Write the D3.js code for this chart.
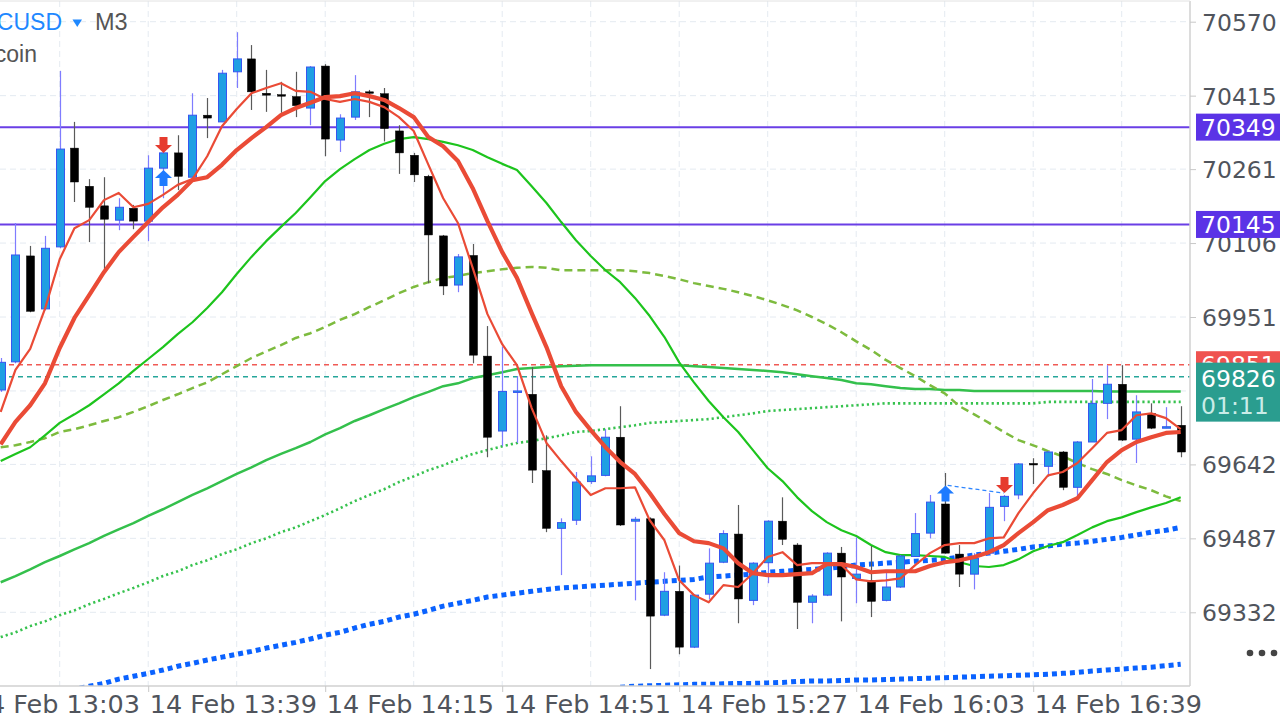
<!DOCTYPE html>
<html><head><meta charset="utf-8">
<script src="https://cdn.jsdelivr.net/npm/d3@7"></script>
<style>html,body{margin:0;padding:0;background:#fff;overflow:hidden}svg{display:block}</style>
</head><body><svg id="c" width="1280" height="720"></svg>
<script>
// ---------------- DATA ----------------
const symbol = "BTCUSD", timeframe = "M3", description = "Bitcoin";
const day = "2024-02-14";
const times = ["13:09","13:12","13:15","13:18","13:21","13:24","13:27","13:30","13:33","13:36",
"13:39","13:42","13:45","13:48","13:51","13:54","13:57","14:00","14:03","14:06",
"14:09","14:12","14:15","14:18","14:21","14:24","14:27","14:30","14:33","14:36",
"14:39","14:42","14:45","14:48","14:51","14:54","14:57","15:00","15:03","15:06",
"15:09","15:12","15:15","15:18","15:21","15:24","15:27","15:30","15:33","15:36",
"15:39","15:42","15:45","15:48","15:51","15:54","15:57","16:00","16:03","16:06",
"16:09","16:12","16:15","16:18","16:21","16:24","16:27","16:30","16:33","16:36",
"16:39","16:42","16:45","16:48","16:51","16:54","16:57","17:00","17:03","17:06","17:09"];
const opens = [69798,69857,70079,69968,70098,70305,70225,70184,70154,70179,70152,70263,70295,70244,70374,70360,70465,70492,70420,70417,70413,70389,70477,70322,70370,70423,70419,70341,70290,70246,70121,70018,70080,69869,69712,69794,69789,69629,69508,69525,69606,69619,69699,69523,69528,69326,69376,69259,69370,69437,69496,69357,69436,69523,69473,69353,69368,69456,69403,69399,69357,69385,69449,69498,69559,69454,69412,69456,69554,69578,69644,69638,69668,69594,69689,69770,69810,69695,69749,69719,69724];
const highs = [69865,70148,70100,70121,70467,70360,70240,70244,70200,70186,70290,70301,70332,70420,70410,70469,70548,70521,70469,70444,70465,70477,70481,70376,70458,70427,70431,70353,70295,70249,70123,70083,70104,69932,69889,69827,69846,69703,69529,69626,69659,69716,69764,69532,69531,69416,69430,69370,69466,69504,69557,69437,69525,69573,69477,69370,69458,69469,69489,69471,69416,69452,69540,69578,69624,69473,69456,69582,69578,69645,69655,69670,69670,69691,69821,69850,69850,69787,69770,69762,69764];
const lows = [69794,69854,69961,69965,70095,70192,70108,70051,70133,70135,70110,70200,70217,70242,70326,70360,70431,70385,70381,70379,70370,70353,70288,70297,70364,70370,70319,70251,70234,70022,69997,70003,69854,69657,69680,69687,69603,69500,69410,69515,69601,69617,69513,69357,69213,69324,69244,69257,69359,69435,69309,69347,69393,69473,69297,69309,69366,69313,69351,69322,69355,69383,69448,69487,69455,69385,69380,69454,69523,69569,69601,69616,69588,69573,69689,69737,69691,69645,69716,69718,69657];
const closes = [69856,70081,69963,70095,70303,70234,70181,70156,70181,70152,70263,70295,70246,70374,70368,70462,70492,70423,70416,70415,70394,70475,70324,70368,70423,70420,70346,70295,70249,70123,70016,70077,69871,69699,69795,69796,69630,69508,69520,69605,69618,69699,69515,69527,69324,69376,69259,69368,69435,69497,69360,69435,69523,69485,69353,69366,69456,69406,69412,69355,69385,69450,69497,69563,69456,69412,69445,69552,69575,69643,69641,69668,69594,69689,69770,69810,69693,69752,69718,69721,69668];

// moving averages (one value per candle)
const maFast = [69752,69840,69884,69968,70072,70137,70154,70196,70211,70181,70188,70207,70228,70240,70288,70351,70387,70420,70431,70441,70425,70423,70408,70402,70408,70402,70391,70370,70341,70270,70200,70148,70054,69957,69894,69850,69760,69687,69649,69613,69578,69592,69592,69594,69525,69483,69399,69368,69353,69389,69385,69414,69448,69458,69431,69435,69435,69431,69401,69397,69399,69403,69431,69456,69473,69477,69477,69487,69489,69540,69582,69619,69626,69645,69676,69708,69714,69745,69749,69739,69716];
const maSlow = [69684,69731,69766,69812,69886,69949,69997,70045,70087,70119,70150,70181,70207,70238,70244,70270,70301,70326,70349,70374,70389,70400,70412,70414,70420,70414,70406,70389,70370,70328,70309,70278,70221,70152,70087,70033,69959,69888,69806,69752,69714,69678,69647,69622,69582,69538,69498,69481,69477,69466,69435,69414,69410,69410,69412,69414,69433,69433,69427,69416,69418,69418,69418,69429,69437,69441,69448,69458,69473,69498,69521,69546,69557,69571,69609,69647,69672,69689,69699,69708,69710];
const ma30 = [69649,69664,69678,69703,69729,69747,69766,69789,69812,69838,69863,69888,69915,69940,69970,70003,70041,70077,70110,70140,70169,70202,70236,70261,70282,70301,70314,70324,70328,70324,70318,70311,70301,70286,70272,70259,70225,70190,70150,70112,70079,70049,70024,69991,69953,69909,69856,69814,69775,69741,69710,69672,69634,69607,69573,69544,69521,69504,69492,69473,69458,69452,69452,69450,69448,69437,69429,69427,69431,69443,69460,69471,69479,69494,69510,69523,69531,69542,69552,69561,69573];
const ma60 = [69678,69682,69689,69697,69710,69716,69724,69733,69741,69752,69764,69777,69789,69802,69814,69831,69848,69865,69879,69892,69907,69917,69930,69945,69957,69972,69986,70001,70014,70024,70033,70037,70043,70047,70051,70054,70056,70054,70049,70049,70049,70049,70049,70047,70043,70037,70030,70022,70016,70010,70003,69995,69986,69976,69965,69951,69936,69919,69900,69882,69861,69844,69827,69808,69791,69764,69747,69729,69710,69693,69682,69670,69659,69645,69632,69622,69609,69598,69588,69575,69565];
const ma100 = [69395,69408,69422,69437,69450,69464,69477,69492,69506,69519,69534,69548,69563,69578,69592,69607,69622,69636,69651,69664,69676,69689,69705,69718,69733,69745,69758,69770,69783,69794,69806,69812,69823,69829,69835,69842,69844,69846,69848,69849,69850,69850,69850,69850,69850,69850,69850,69848,69846,69844,69842,69840,69838,69835,69831,69827,69823,69819,69812,69810,69806,69802,69800,69800,69798,69798,69796,69796,69796,69796,69796,69796,69796,69796,69796,69795,69795,69795,69795,69795,69795];
const ma200 = [69280,69290,69303,69313,69326,69336,69349,69360,69372,69383,69395,69408,69418,69431,69441,69454,69464,69477,69487,69500,69510,69523,69536,69550,69565,69578,69590,69605,69617,69630,69640,69653,69664,69672,69680,69687,69691,69697,69703,69710,69712,69716,69720,69724,69729,69731,69733,69735,69737,69741,69745,69749,69754,69756,69758,69760,69762,69764,69766,69768,69770,69770,69770,69770,69770,69770,69770,69770,69770,69770,69770,69773,69773,69773,69773,69773,69773,69773,69773,69773,69773];
const maBlue1 = [69137,69143,69150,69158,69164,69171,69177,69183,69192,69198,69204,69211,69219,69225,69232,69238,69244,69250,69257,69263,69269,69276,69284,69290,69299,69307,69313,69322,69328,69336,69345,69351,69357,69364,69368,69372,69376,69380,69383,69385,69387,69389,69391,69393,69395,69397,69399,69401,69406,69408,69410,69412,69416,69418,69420,69422,69424,69427,69431,69433,69435,69437,69439,69441,69443,69448,69452,69456,69460,69464,69469,69471,69475,69477,69481,69485,69489,69494,69500,69504,69510];
const maBlue2 = [null,null,null,null,null,null,null,null,null,null,null,null,null,null,null,null,null,null,null,null,null,null,null,null,null,null,null,null,null,null,null,null,null,null,null,null,null,null,null,null,null,null,69175,69177,69178,69179,69180,69181,69181,69182,69183,69183,69184,69185,69187,69188,69188,69189,69190,69190,69191,69192,69193,69194,69195,69196,69197,69198,69199,69200,69201,69202,69204,69206,69209,69211,69213,69215,69217,69220,69223];

// levels
const resistanceLevels = [70349, 70145];
const askPrice = 69851, bidPrice = 69826, countdown = "01:11";
// signals
const signalIndex = [11, 11, 64, 68];
const signalType = ["sell", "buy", "buy", "sell"];
const signalPrice = [70295, 70259, 69598, 69582];
const signalLinks = [[2, 3]];
// axes
const gridPrices = [70570, 70415, 70261, 70106, 69951, 69796, 69642, 69487, 69332];
const priceTicks = [70570, 70415, 70261, 70106, 69951, 69642, 69487, 69332]; // 69796 hidden under the bid tag
const labelTimes = ["13:03","13:39","14:15","14:51","15:27","16:03","16:39"];
const gridTimes = ["13:03","13:21","13:39","13:57","14:15","14:33","14:51","15:09","15:27","15:45","16:03","16:21","16:39","16:57"];

// ---------------- CHART ----------------
const W = 1280, H = 720;
const plot = {left: 0, right: 1190, top: 1, bottom: 686};
const parse = d3.timeParse("%Y-%m-%d %H:%M");
const T = times.map(t => parse(day + " " + t));
const x = d3.scaleTime().domain([T[0], T[T.length - 1]]).range([0.7, 1180.7]);
const y = d3.scaleLinear().domain([69332, 70570]).range([612.3, 21.7]);
const idx = d3.range(times.length);

const svg = d3.select("#c");
svg.append("rect").attr("width", W).attr("height", H).attr("fill", "#fff");
svg.append("defs").append("clipPath").attr("id", "clip").append("rect")
  .attr("x", plot.left).attr("y", plot.top).attr("width", plot.right - plot.left).attr("height", plot.bottom - plot.top);

// grid
const grid = svg.append("g").attr("clip-path", "url(#clip)");
grid.selectAll("line.h").data(gridPrices).join("line")
  .attr("x1", plot.left).attr("x2", plot.right).attr("y1", d => y(d)).attr("y2", d => y(d))
  .attr("stroke", "#e4eaf1").attr("stroke-width", 1).attr("stroke-dasharray", "6,4");
grid.selectAll("line.v").data(gridTimes).join("line")
  .attr("x1", d => x(parse(day + " " + d))).attr("x2", d => x(parse(day + " " + d)))
  .attr("y1", plot.top).attr("y2", plot.bottom)
  .attr("stroke", "#e4eaf1").attr("stroke-width", 1).attr("stroke-dasharray", "6,4");

const g = svg.append("g").attr("clip-path", "url(#clip)");

// horizontal levels
g.selectAll("line.res").data(resistanceLevels).join("line")
  .attr("x1", plot.left).attr("x2", plot.right).attr("y1", d => y(d)).attr("y2", d => y(d))
  .attr("stroke", "#6a3fe6").attr("stroke-width", 2);
g.append("line").attr("x1", plot.left).attr("x2", plot.right).attr("y1", y(askPrice)).attr("y2", y(askPrice))
  .attr("stroke", "#f05a55").attr("stroke-width", 1.5).attr("stroke-dasharray", "5,4");
g.append("line").attr("x1", plot.left).attr("x2", plot.right).attr("y1", y(bidPrice)).attr("y2", y(bidPrice))
  .attr("stroke", "#26a69a").attr("stroke-width", 1.5).attr("stroke-dasharray", "5,4");

const line = arr => d3.line().defined(i => arr[i] != null).x(i => x(T[i])).y(i => y(arr[i]))(idx);
function drawLine(arr, color, width, dash) {
  const p = g.append("path").attr("d", line(arr)).attr("fill", "none")
    .attr("stroke", color).attr("stroke-width", width).attr("stroke-linejoin", "round");
  if (dash) p.attr("stroke-dasharray", dash);
  return p;
}
drawLine(maBlue2, "#0a62ff", 5, "5,4");
drawLine(maBlue1, "#0a62ff", 5, "5,4");
drawLine(ma200, "#36c24e", 2.6, "2.2,3");
drawLine(ma100, "#34c04c", 2.5);
drawLine(ma60, "#7dbb3e", 2.5, "8,5");
drawLine(ma30, "#1dc41d", 2.2);

// candles
const bodyW = 8;
const cg = g.append("g");
idx.forEach(i => {
  const up = closes[i] >= opens[i];
  const cx = Math.round(x(T[i])) + 0.5;
  cg.append("line").attr("x1", cx).attr("x2", cx).attr("y1", y(highs[i])).attr("y2", y(lows[i]))
    .attr("stroke", up ? "#7f7cff" : "#5a5a5a").attr("stroke-width", 1.2);
  const top = y(Math.max(opens[i], closes[i])), bot = y(Math.min(opens[i], closes[i]));
  const h = Math.max(bot - top, 1.5);
  cg.append("rect").attr("x", cx - bodyW / 2).attr("y", top).attr("width", bodyW).attr("height", h)
    .attr("fill", up ? "#1f9fe3" : "#000").attr("stroke", up ? "#3656f0" : "#000").attr("stroke-width", up ? 1 : 0.5);
});

drawLine(maSlow, "#ea4b36", 4.2);
drawLine(maFast, "#ea4b36", 2.2);

// signal links and arrows
signalLinks.forEach(([a, b]) => {
  g.append("line").attr("x1", x(T[signalIndex[a]]) + 3).attr("y1", y(signalPrice[a]))
    .attr("x2", x(T[signalIndex[b]])).attr("y2", y(signalPrice[b]))
    .attr("stroke", "#2f86ff").attr("stroke-width", 1.3).attr("stroke-dasharray", "4,3");
});
signalIndex.forEach((k, j) => {
  const cx = Math.round(x(T[k])) + 0.5, ty = y(signalPrice[j]);
  let pts;
  if (signalType[j] === "sell") {
    pts = [[cx - 4, ty - 16], [cx + 4, ty - 16], [cx + 4, ty - 8], [cx + 8.5, ty - 8], [cx, ty], [cx - 8.5, ty - 8], [cx - 4, ty - 8]];
    g.append("polygon").attr("points", pts.map(p => p.join(",")).join(" ")).attr("fill", "#e63b2e");
  } else {
    pts = [[cx, ty], [cx + 8.5, ty + 8], [cx + 4, ty + 8], [cx + 4, ty + 16], [cx - 4, ty + 16], [cx - 4, ty + 8], [cx - 8.5, ty + 8]];
    g.append("polygon").attr("points", pts.map(p => p.join(",")).join(" ")).attr("fill", "#1f7bff");
  }
});

// frame
svg.append("line").attr("x1", plot.right).attr("x2", plot.right).attr("y1", plot.top).attr("y2", plot.bottom)
  .attr("stroke", "#d0d0d0").attr("stroke-width", 1.5);
svg.append("line").attr("x1", 0).attr("x2", plot.right).attr("y1", plot.bottom).attr("y2", plot.bottom)
  .attr("stroke", "#d0d0d0").attr("stroke-width", 1.5);
svg.append("line").attr("x1", 0).attr("x2", plot.right).attr("y1", plot.top).attr("y2", plot.top)
  .attr("stroke", "#e2e2e2").attr("stroke-width", 1);

const font = "DejaVu Sans";
const titleFont = "Liberation Sans";
// price axis
const yAxis = d3.axisRight(y).tickValues(priceTicks).tickFormat(d3.format("d")).tickSize(6).tickPadding(6);
const ya = svg.append("g").attr("transform", `translate(${plot.right},0)`).call(yAxis);
ya.select(".domain").remove();
ya.selectAll(".tick line").attr("stroke", "#c8c8c8");
ya.selectAll(".tick text").attr("fill", "#50545c").attr("font-family", font).attr("font-size", 23.5).attr("dy", "0.36em");

// time axis
const xAxis = d3.axisBottom(x).tickValues(labelTimes.map(t => parse(day + " " + t)))
  .tickFormat(d3.timeFormat("%d %b %H:%M")).tickSize(6).tickPadding(4);
const xa = svg.append("g").attr("transform", `translate(0,${plot.bottom})`).call(xAxis);
xa.select(".domain").remove();
xa.selectAll(".tick line").attr("stroke", "#c8c8c8");
xa.selectAll(".tick text").attr("fill", "#50545c").attr("font-family", font).attr("font-size", 25.5)
  .attr("text-anchor", "start").attr("x", 1).attr("y", 27).attr("dy", 0);

// level labels
function tag(price, fill, text, h, tcolor) {
  const cy = y(price);
  svg.append("rect").attr("x", 1196).attr("y", cy - h / 2).attr("width", 90).attr("height", h).attr("fill", fill);
  svg.append("text").attr("x", 1201).attr("y", cy).attr("dy", "0.36em").attr("fill", tcolor || "#fff")
    .attr("font-family", font).attr("font-size", 23.5).text(text);
}
resistanceLevels.forEach(p => tag(p, "#5b33e6", d3.format("d")(p), 27));
tag(askPrice, "#ef5350", d3.format("d")(askPrice), 27);
// bid tag with countdown
{
  const top = y(bidPrice) - 14;
  svg.append("rect").attr("x", 1196).attr("y", top).attr("width", 90).attr("height", 59).attr("fill", "#2a9d8f");
  svg.append("text").attr("x", 1201).attr("y", top + 24).attr("fill", "#fff").attr("font-family", font).attr("font-size", 23.5).text(d3.format("d")(bidPrice));
  svg.append("text").attr("x", 1201).attr("y", top + 51).attr("fill", "#c9ece7").attr("font-family", font).attr("font-size", 23.5).text(countdown);
}

// more dots
svg.selectAll("circle.more").data([0, 1, 2]).join("circle")
  .attr("cx", d => 1250 + d * 12).attr("cy", 653).attr("r", 3.3).attr("fill", "#444");

// title
svg.append("text").attr("x", 62).attr("y", 30).attr("text-anchor", "end").attr("fill", "#1e88ff")
  .attr("font-family", titleFont).attr("font-size", 23).text(symbol);
svg.append("path").attr("d", "M72.5,19.5 L82,19.5 L77.25,27 Z").attr("fill", "#1e88ff");
svg.append("text").attr("x", 95).attr("y", 30).attr("fill", "#555").attr("font-family", titleFont).attr("font-size", 23.5).text(timeframe);
svg.append("text").attr("x", 37).attr("y", 62).attr("text-anchor", "end").attr("fill", "#555")
  .attr("font-family", titleFont).attr("font-size", 23).text(description);
</script></body></html>
